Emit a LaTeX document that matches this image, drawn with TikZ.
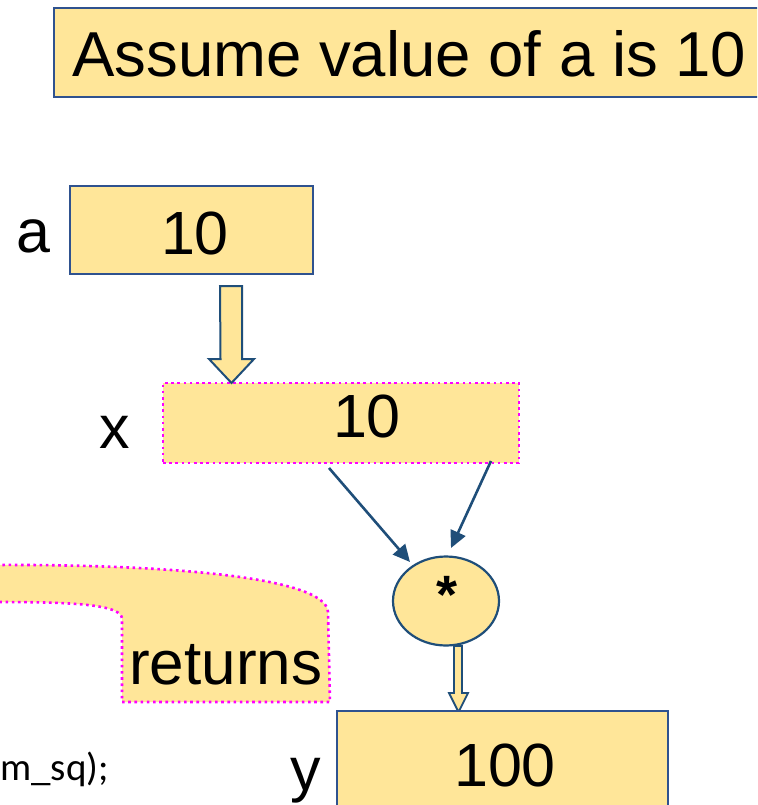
\documentclass[tikz,border=0pt]{standalone}
\usepackage{fontspec}
\setmainfont{Liberation Sans}
\newfontfamily\codefont{Carlito}
\usetikzlibrary{arrows.meta,shapes.geometric}
\definecolor{boxfill}{HTML}{FFE699}
\definecolor{boxline}{HTML}{2F528F}
\definecolor{arrline}{HTML}{1F4E79}
\definecolor{dotline}{HTML}{FF00FF}
\tikzset{
  big/.style={font=\fontsize{61}{70}\selectfont, inner sep=0pt},
  solidbox/.style={draw=boxline, fill=boxfill, line width=2.2pt, inner sep=0pt},
  dotbox/.style={draw=dotline, fill=boxfill, line width=2.6pt, dash pattern=on 2.6pt off 3.6pt, inner sep=0pt},
  hollowarrow/.style={draw=arrline, fill=boxfill, line width=2pt, line join=miter},
  flow/.style={draw=arrline, line width=2.6pt, -{Triangle[length=17pt,width=16pt]}},
}
\begin{document}
\begin{tikzpicture}[x=1pt,y=-1pt]
\useasboundingbox (0,0) rectangle (757,805);
\clip (0,0) rectangle (757,805);
% title box
\node[solidbox, minimum width=716pt, minimum height=89pt] (title) at (412,52.5) {};
\node[font=\fontsize{63.5}{72}\selectfont, inner sep=0pt, anchor=base west] (titletext) at (72,77) {Assume value of a is 10};
% box a
\node[solidbox, minimum width=243pt, minimum height=88pt] (abox) at (191.5,230) {};
\node[big, anchor=base] (aval) at (195,254) {10};
\node[big, anchor=base west] (alab) at (16,252) {a};
% box x
\node[dotbox, minimum width=356pt, minimum height=80pt] (xbox) at (341,423) {};
\node[big, anchor=base] (xval) at (367,437) {10};
\node[big, anchor=base] (xlab) at (115,448) {x};
% hollow arrow a -> x
\draw[hollowarrow] (220,286) -- (242,286) -- (242,359) -- (254,359) -- (231.5,383)
   -- (209,359) -- (220.5,359) -- cycle;
% multiply node
\node[ellipse, draw=arrline, fill=boxfill, line width=2.2pt, minimum width=106pt, minimum height=89pt, inner sep=0pt] (mul) at (446,601) {};
\node[font=\fontsize{54}{60}\selectfont\bfseries, anchor=base, inner sep=0pt] (star) at (447,613) {*};
% connectors x -> *
\coordinate (x1) at (329,468);
\coordinate (m1) at (410,562);
\coordinate (x2) at (491,461);
\coordinate (m2) at (451,548);
\draw[flow] (x1) -- (m1);
\draw[flow] (x2) -- (m2);
% returns callout
\draw[dotbox] (-10,565) .. controls (150,564) and (326,575) .. (328,612)
   -- (330,702) -- (122,702) -- (122,618) .. controls (120,603) and (60,602) .. (-10,602) -- cycle;
\node[font=\fontsize{62}{70}\selectfont, inner sep=0pt, anchor=base west] (ret) at (129,684) {returns};
% hollow arrow * -> y
\draw[hollowarrow, line width=1.8pt] (454,646) -- (462,646) -- (462,693) -- (468,693) -- (458.5,712)
   -- (449,693) -- (454,693) -- cycle;
% box y
\node[solidbox, minimum width=331pt, minimum height=120pt] (ybox) at (502.5,771) {};
\node[big, anchor=base] (yval) at (505,786) {100};
\node[big, anchor=base] (ylab) at (306,790) {y};
% code fragment
\node[font=\codefont\fontsize{39}{44}\selectfont, anchor=base west, inner sep=0pt] (code) at (0,780) {m\_sq);};
\end{tikzpicture}
\end{document}
